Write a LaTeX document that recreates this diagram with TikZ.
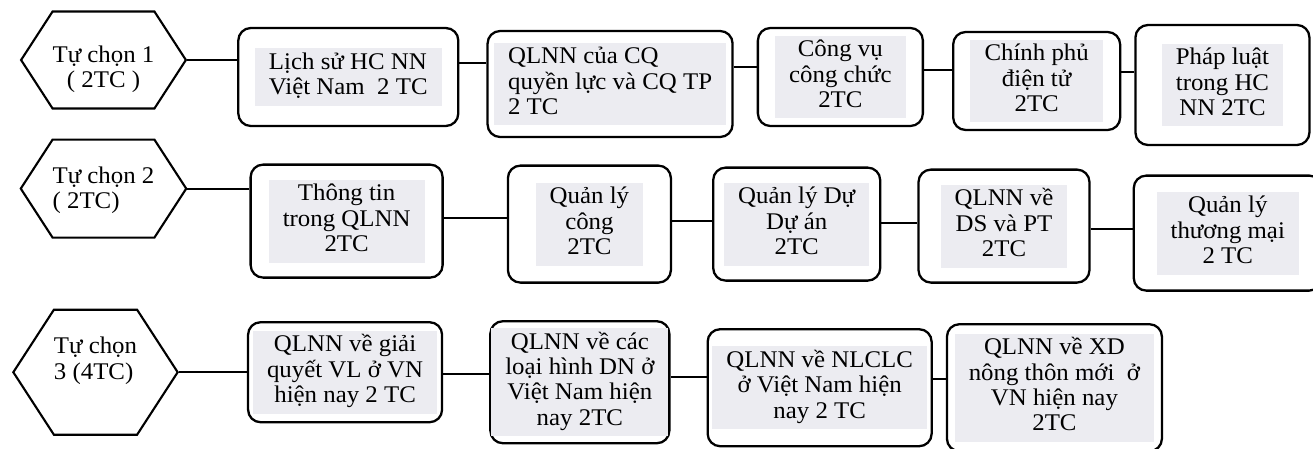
\documentclass[tikz,border=0pt]{standalone}
\usepackage{fontspec}
\setmainfont{Liberation Serif}[FakeStretch=1.04]
\usetikzlibrary{shapes.geometric,shapes.symbols,positioning}

\definecolor{txtShade}{RGB}{236,236,241}

% shaded text area inside a course box
\newcommand{\shadetext}[2][c]{{\setlength{\fboxsep}{2pt}\colorbox{txtShade}{\begin{tabular}{@{\hspace{6pt}}#1@{\hspace{6pt}}}#2\end{tabular}}}}
% text of a hexagon, moved up or down
\newcommand{\hexlabel}[3][c]{\raisebox{#2}[0pt][0pt]{\begin{tabular}{@{}#1@{}}#3\end{tabular}}}

\begin{document}
\begin{tikzpicture}[font=\fontsize{13.6}{14.4}\selectfont]

\tikzset{
	choiceHex/.style={
		signal,
		signal to=west and east,
		signal pointer angle=114,
		draw,
		line width=1.2pt,
		minimum width=3.26cm,
		inner sep=0pt
	}
}

\tikzset{
	courseBox/.style={
		draw,
		rounded corners=0.25cm,
		line width=1.3pt,
		fill=white,
		inner sep=0pt,
		align=center
	}
}

\tikzset{
	link/.style={
		line width=1.1pt
	}
}

\useasboundingbox (0,0) rectangle (26.26,-8.98);

% row 1
\node[choiceHex, minimum height=1.94cm](H1) at (2.07,-1.2) {\hexlabel{-0.32cm}{Tự chọn 1\\( 2TC )}};

\node[courseBox, minimum width=4.4cm, minimum height=1.96cm](B11) [right=1cm of H1, yshift=-0.34cm] {\shadetext[l]{Lịch sử HC NN\\Việt Nam\ \ 2 TC}};
\node[courseBox, minimum width=4.9cm, minimum height=2.12cm](B12) [right=0.54cm of B11, yshift=-0.14cm] {\shadetext[l]{QLNN của CQ\\quyền lực và CQ TP\\2 TC}};
\node[courseBox, minimum width=3.3cm, minimum height=1.96cm](B13) [right=0.46cm of B12, yshift=0.14cm] {\shadetext{Công vụ\\công chức\\2TC}};
\node[courseBox, minimum width=3.34cm, minimum height=1.96cm](B14) [right=0.56cm of B13, yshift=-0.08cm] {\shadetext{Chính phủ\\điện tử\\2TC}};
\node[courseBox, minimum width=3.48cm, minimum height=2.4cm](B15) [right=0.26cm of B14, yshift=-0.08cm] {\shadetext{Pháp luật\\trong HC\\NN 2TC}};

% row 2
\node[choiceHex, minimum height=1.96cm](H2) [below=0.58cm of H1] {\hexlabel[l]{-0.18cm}{Tự chọn 2\\( 2TC)}};

\node[courseBox, minimum width=3.84cm, minimum height=2.26cm](B21) [right=1.24cm of H2, yshift=-0.65cm] {\shadetext{Thông tin\\trong QLNN\\2TC}};
\node[courseBox, minimum width=3.26cm, minimum height=2.34cm](B22) [right=1.26cm of B21, yshift=-0.06cm] {\shadetext{Quản lý\\công\\2TC}};
\node[courseBox, minimum width=3.34cm, minimum height=2.26cm](B23) [right=0.8cm of B22] {\shadetext{Quản lý Dự\\Dự án\\2TC}};
\node[courseBox, minimum width=3.42cm, minimum height=2.26cm](B24) [right=0.72cm of B23, yshift=-0.04cm] {\shadetext{QLNN về\\DS và PT\\2TC}};
\node[courseBox, minimum width=3.76cm, minimum height=2.3cm](B25) [right=0.84cm of B24, yshift=-0.14cm] {\shadetext{Quản lý\\thương mại\\2 TC}};

% row 3
\node[choiceHex, minimum height=2.5cm](H3) [below=1.4cm of H2, xshift=-0.16cm] {\hexlabel[l]{0.09cm}{Tự chọn\\3 (4TC)}};

\node[courseBox, minimum width=3.88cm, minimum height=2cm](B31) [right=1.36cm of H3] {\shadetext{QLNN về giải\\quyết VL ở VN\\hiện nay 2 TC}};
\node[courseBox, minimum width=3.58cm, minimum height=2.44cm](B32) [right=0.92cm of B31, yshift=-0.2cm] {\shadetext{QLNN về các\\loại hình DN ở\\Việt Nam hiện\\nay 2TC}};
\node[courseBox, minimum width=4.48cm, minimum height=2.34cm](B33) [right=0.72cm of B32, yshift=-0.11cm] {\shadetext{QLNN về NLCLC\\ở Việt Nam hiện\\nay 2 TC}};
\node[courseBox, minimum width=4.3cm, minimum height=2.54cm](B34) [right=0.26cm of B33] {\shadetext{QLNN về XD\\nông thôn mới\ \ ở\\VN hiện nay\\2TC}};

% links
\draw[link] (H1.east) -- (H1.east -| B11.west);
\draw[link] ([yshift=0.28cm]B11.east) -- ([yshift=0.28cm]B11.east -| B12.west);
\draw[link] ([yshift=0.34cm]B12.east) -- ([yshift=0.34cm]B12.east -| B13.west);
\draw[link] ([yshift=0.14cm]B13.east) -- ([yshift=0.14cm]B13.east -| B14.west);
\draw[link] ([yshift=0.18cm]B14.east) -- ([yshift=0.18cm]B14.east -| B15.west);

\draw[link] (H2.east) -- (H2.east -| B21.west);
\draw[link] ([yshift=0.07cm]B21.east) -- ([yshift=0.07cm]B21.east -| B22.west);
\draw[link] ([yshift=0.07cm]B22.east) -- ([yshift=0.07cm]B22.east -| B23.west);
\draw[link] ([yshift=0.03cm]B23.east) -- ([yshift=0.03cm]B23.east -| B24.west);
\draw[link] ([yshift=-0.05cm]B24.east) -- ([yshift=-0.05cm]B24.east -| B25.west);

\draw[link] (H3.east) -- (H3.east -| B31.west);
\draw[link] ([yshift=-0.04cm]B31.east) -- ([yshift=-0.04cm]B31.east -| B32.west);
\draw[link] ([yshift=0.1cm]B32.east) -- ([yshift=0.1cm]B32.east -| B33.west);
\draw[link] ([yshift=0.17cm]B33.east) -- ([yshift=0.17cm]B33.east -| B34.west);

\end{tikzpicture}
\end{document}
